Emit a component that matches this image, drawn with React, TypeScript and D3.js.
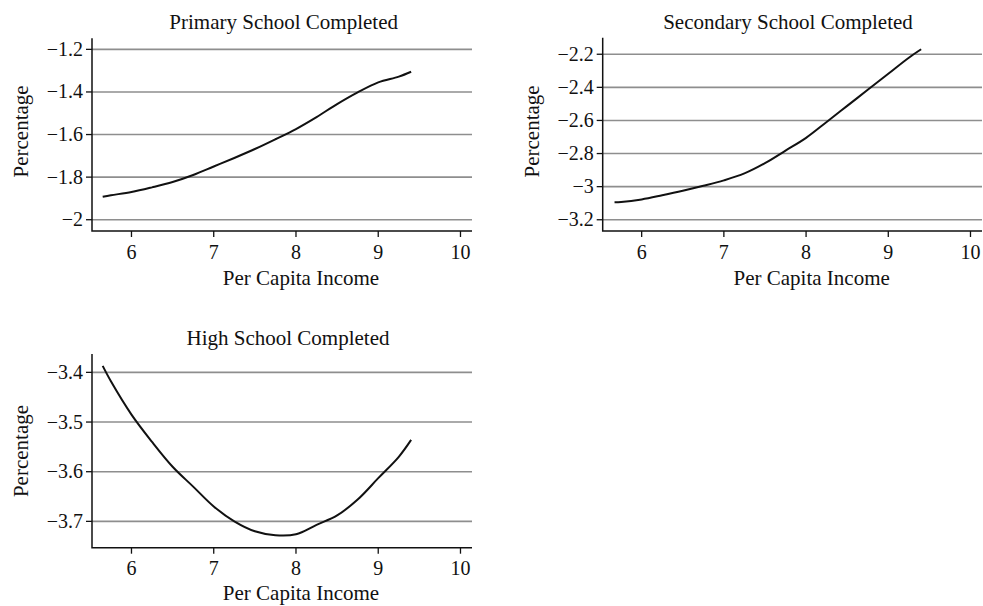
import React from "react";
import * as d3 from "d3";

// per capita income (log) grid the curves are read at
const incomePrimary = [5.65, 5.75, 6.0, 6.25, 6.5, 6.75, 7.0, 7.25, 7.5, 7.75, 8.0, 8.25, 8.5, 8.75, 9.0, 9.25, 9.4];
const primaryValues = [-1.892, -1.885, -1.87, -1.848, -1.823, -1.79, -1.75, -1.71, -1.668, -1.622, -1.574, -1.518, -1.457, -1.402, -1.355, -1.328, -1.305];

const incomeSecondary = [5.67, 5.75, 6.0, 6.25, 6.5, 6.75, 7.0, 7.25, 7.5, 7.75, 8.0, 8.25, 8.5, 8.75, 9.0, 9.25, 9.4];
const secondaryValues = [-3.095, -3.093, -3.077, -3.052, -3.025, -2.995, -2.962, -2.92, -2.858, -2.782, -2.705, -2.609, -2.512, -2.415, -2.318, -2.221, -2.17];

const incomeHigh = [5.65, 5.75, 6.0, 6.25, 6.5, 6.75, 7.0, 7.25, 7.5, 7.75, 8.0, 8.25, 8.5, 8.75, 9.0, 9.25, 9.4];
const highValues = [-3.387, -3.418, -3.485, -3.54, -3.59, -3.63, -3.67, -3.7, -3.72, -3.728, -3.726, -3.707, -3.688, -3.656, -3.613, -3.57, -3.536];

const xTicks = [6, 7, 8, 9, 10];
const primaryTicks = [-2, -1.8, -1.6, -1.4, -1.2];
const secondaryTicks = [-3.2, -3, -2.8, -2.6, -2.4, -2.2];
const highTicks = [-3.7, -3.6, -3.5, -3.4];

const titles = ["Primary School Completed", "Secondary School Completed", "High School Completed"];
const xLabel = "Per Capita Income";
const yLabel = "Percentage";

const FONT = "'Liberation Serif', 'Times New Roman', serif";
const fmt = (v: number) => String(v).replace("-", "\u2212");

type PanelProps = {
  xs: number[];
  ys: number[];
  yTicks: number[];
  title: string;
  xDomain: [number, number];
  yDomain: [number, number];
  left: number;
  right: number;
  top: number;
  bottom: number;
  titleX: number;
  titleY: number;
  xLabelX: number;
  xLabelY: number;
  yLabelX: number;
  yLabelY: number;
};

const Panel = (p: PanelProps) => {
  const x = d3.scaleLinear().domain(p.xDomain).range([p.left, p.right]);
  const y = d3.scaleLinear().domain(p.yDomain).range([p.bottom, p.top]);
  const pts = p.xs.map((v, i) => [v, p.ys[i]] as [number, number]);
  const line = d3
    .line<[number, number]>()
    .x((d) => x(d[0]))
    .y((d) => y(d[1]))
    .curve(d3.curveCatmullRom.alpha(0.5));

  return (
    <g fontFamily={FONT} fill="#111">
      {p.yTicks.map((t) => (
        <g key={"gy" + t}>
          <line x1={p.left} x2={p.right} y1={y(t)} y2={y(t)} stroke="#8e8e8e" strokeWidth={1.6} />
          <line x1={p.left - 6} x2={p.left} y1={y(t)} y2={y(t)} stroke="#111" strokeWidth={1.3} />
          <text x={p.left - 9} y={y(t) + 6.5} textAnchor="end" fontSize={20}>
            {fmt(t)}
          </text>
        </g>
      ))}
      {xTicks.map((t) => (
        <g key={"gx" + t}>
          <line x1={x(t)} x2={x(t)} y1={p.bottom} y2={p.bottom + 6} stroke="#111" strokeWidth={1.3} />
          <text x={x(t)} y={p.bottom + 27.5} textAnchor="middle" fontSize={20}>
            {t}
          </text>
        </g>
      ))}
      <path d={`M${p.left},${p.top}V${p.bottom}H${p.right}`} fill="none" stroke="#111" strokeWidth={1.5} />
      <path d={line(pts) ?? ""} fill="none" stroke="#111" strokeWidth={2} />
      <text x={p.titleX} y={p.titleY} textAnchor="middle" fontSize={21}>
        {p.title}
      </text>
      <text x={p.xLabelX} y={p.xLabelY} textAnchor="middle" fontSize={21}>
        {xLabel}
      </text>
      <text
        transform={`translate(${p.yLabelX},${p.yLabelY}) rotate(-90)`}
        textAnchor="middle"
        fontSize={21}
      >
        {yLabel}
      </text>
    </g>
  );
};

export default function App() {
  return (
    <svg width={983} height={606} style={{ position: "absolute", left: 0, top: 0, background: "#fff" }}>
      <Panel
        xs={incomePrimary}
        ys={primaryValues}
        yTicks={primaryTicks}
        title={titles[0]}
        xDomain={[5.52, 10.14]}
        yDomain={[-2.053, -1.148]}
        left={92}
        right={472}
        top={38.3}
        bottom={231}
        titleX={283.7}
        titleY={29}
        xLabelX={301}
        xLabelY={285}
        yLabelX={28}
        yLabelY={131.4}
      />
      <Panel
        xs={incomeSecondary}
        ys={secondaryValues}
        yTicks={secondaryTicks}
        title={titles[1]}
        xDomain={[5.526, 10.14]}
        yDomain={[-3.268, -2.1]}
        left={602.7}
        right={982}
        top={37.7}
        bottom={231}
        titleX={788}
        titleY={29}
        xLabelX={811.7}
        xLabelY={285}
        yLabelX={538.7}
        yLabelY={131.4}
      />
      <Panel
        xs={incomeHigh}
        ys={highValues}
        yTicks={highTicks}
        title={titles[2]}
        xDomain={[5.52, 10.14]}
        yDomain={[-3.753, -3.363]}
        left={92}
        right={472}
        top={354}
        bottom={547.7}
        titleX={288}
        titleY={345}
        xLabelX={301}
        xLabelY={600}
        yLabelX={28}
        yLabelY={451}
      />
    </svg>
  );
}
